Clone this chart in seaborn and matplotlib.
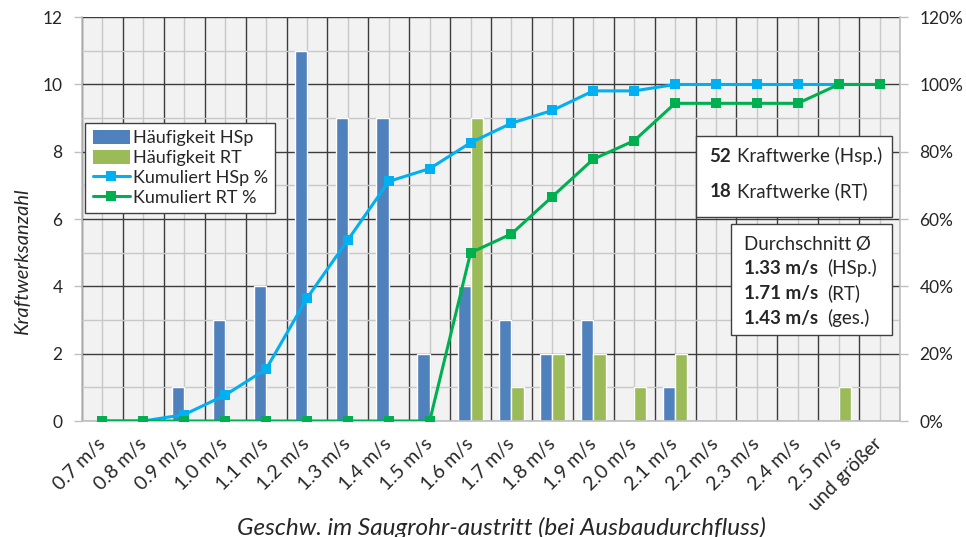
import numpy as np
import pandas as pd
import matplotlib
matplotlib.use("Agg")
import matplotlib.pyplot as plt
from matplotlib.patches import Patch, Rectangle
from matplotlib.lines import Line2D
from matplotlib.ticker import FuncFormatter
import seaborn as sns

# Geschwindigkeitsklassen am Saugrohraustritt
categories = ["0.7 m/s", "0.8 m/s", "0.9 m/s", "1.0 m/s", "1.1 m/s", "1.2 m/s",
              "1.3 m/s", "1.4 m/s", "1.5 m/s", "1.6 m/s", "1.7 m/s", "1.8 m/s",
              "1.9 m/s", "2.0 m/s", "2.1 m/s", "2.2 m/s", "2.3 m/s", "2.4 m/s",
              "2.5 m/s", "und größer"]

# Anzahl Kraftwerke je Klasse
haeufigkeit_hsp = [0, 0, 1, 3, 4, 11, 9, 9, 2, 4, 3, 2, 3, 0, 1, 0, 0, 0, 0, 0]
haeufigkeit_rt = [0, 0, 0, 0, 0, 0, 0, 0, 0, 9, 1, 2, 2, 1, 2, 0, 0, 0, 1, 0]

# Kumulierte Anteile in %
kumuliert_hsp = [0, 0, 1.9, 7.7, 15.4, 36.5, 53.8, 71.2, 75.0, 82.7, 88.5, 92.3,
                 98.1, 98.1, 100, 100, 100, 100, 100, 100]
kumuliert_rt = [0, 0, 0, 0, 0, 0, 0, 0, 0, 50.0, 55.6, 66.7, 77.8, 83.3, 94.4,
                94.4, 94.4, 94.4, 100, 100]

series_names = ["Häufigkeit HSp", "Häufigkeit RT"]
line_names = ["Kumuliert HSp %", "Kumuliert RT %"]

C_HSP = "#4f81bd"
C_RT = "#9bbb59"
C_LHSP = "#00b0f0"
C_LRT = "#00b050"
GRID_DARK = "#3c3c3c"
GRID_LIGHT = "#c8c8c8"
AXIS_GRAY = "#bfbfbf"

sns.set_style("white")
plt.rcParams["font.family"] = ["Lato", "DejaVu Sans"]

df = pd.DataFrame({
    "Geschwindigkeit": categories * 2,
    "Anzahl": haeufigkeit_hsp + haeufigkeit_rt,
    "Reihe": [series_names[0]] * len(categories) + [series_names[1]] * len(categories),
})

fig = plt.figure(figsize=(9.66, 5.37), dpi=100)
ax = fig.add_axes([0.0849, 0.216, 0.8468, 0.752])
ax.set_facecolor("#f2f2f2")

sns.barplot(data=df, x="Geschwindigkeit", y="Anzahl", hue="Reihe",
            palette=[C_HSP, C_RT], width=0.6, dodge=True, saturation=1,
            legend=False, ax=ax, zorder=2)

n = len(categories)
pos = np.arange(n)

# Gitter: dunkle Linien an Klassengrenzen, helle Linien in Klassenmitte
ax.set_xlim(-0.5, n - 0.5)
ax.set_ylim(0, 12)
ax.set_axisbelow(True)
ax.set_xticks(pos)
ax.set_xticklabels(categories, rotation=45, ha="right", va="center",
                   rotation_mode="anchor", fontsize=14)
ax.set_xticks(np.arange(-0.5, n, 1), minor=True)
ax.set_yticks(np.arange(0, 13, 2))
ax.set_yticks(np.arange(1, 12, 2), minor=True)
ax.tick_params(axis="x", which="major", length=0, pad=14.5)
ax.tick_params(axis="x", which="minor", length=5, color=AXIS_GRAY, width=1)
ax.tick_params(axis="y", which="major", length=6, color=AXIS_GRAY, width=1,
               labelsize=12.5, pad=8)
ax.tick_params(axis="y", which="minor", length=0)
ax.xaxis.grid(True, which="major", color=GRID_LIGHT, lw=1)
ax.xaxis.grid(True, which="minor", color=GRID_DARK, lw=1)
ax.yaxis.grid(True, which="major", color=GRID_DARK, lw=1)
ax.yaxis.grid(True, which="minor", color=GRID_LIGHT, lw=1)
for side in ["top", "right"]:
    ax.spines[side].set_visible(False)
for side in ["left", "bottom"]:
    ax.spines[side].set_color(AXIS_GRAY)
    ax.spines[side].set_linewidth(1.2)

ax.set_xlabel("Geschw. im Saugrohr-austritt (bei Ausbaudurchfluss)",
              fontsize=17.5, style="italic", va="baseline")
ax.xaxis.set_label_coords(0.513, -0.282)
ax.set_ylabel("Kraftwerksanzahl", fontsize=14.5, style="italic")
ax.yaxis.set_label_coords(-0.062, 0.394)

# Kumulierte Kurven auf der rechten Achse
ax2 = ax.twinx()
sns.lineplot(x=pos, y=kumuliert_hsp, ax=ax2, color=C_LHSP, lw=2.2, marker="s",
             markersize=7.5, markeredgewidth=0, zorder=3)
sns.lineplot(x=pos, y=kumuliert_rt, ax=ax2, color=C_LRT, lw=2.2, marker="s",
             markersize=7.5, markeredgewidth=0, zorder=4)
ax2.set_ylim(0, 120)
ax2.set_yticks(np.arange(0, 121, 20))
ax2.yaxis.set_major_formatter(FuncFormatter(lambda v, p: f"{v:.0f}%"))
ax2.tick_params(axis="y", length=6, color=AXIS_GRAY, width=1, labelsize=12.5, pad=8)
ax2.grid(False)
for side in ["top", "left", "bottom"]:
    ax2.spines[side].set_visible(False)
ax2.spines["right"].set_color(AXIS_GRAY)
ax2.spines["right"].set_linewidth(1.2)
ax2.set_ylabel("")

handles = [
    Patch(facecolor=C_HSP, edgecolor="none"),
    Patch(facecolor=C_RT, edgecolor="none"),
    Line2D([], [], color=C_LHSP, lw=2.2, marker="s", markersize=7.5, markeredgewidth=0),
    Line2D([], [], color=C_LRT, lw=2.2, marker="s", markersize=7.5, markeredgewidth=0),
]
leg = ax2.legend(handles, series_names + line_names, loc="upper left",
                 bbox_to_anchor=(0.004, 0.738), borderaxespad=0, fontsize=13,
                 frameon=True, fancybox=False, framealpha=1, edgecolor="#404040",
                 handlelength=2.05, handleheight=0.8, labelspacing=0.2,
                 borderpad=0.4, handletextpad=0.2)
leg.get_frame().set_linewidth(1.0)
leg.set_zorder(10)

# Infoboxen
box_kw = dict(transform=ax2.transAxes, facecolor="white", edgecolor="#404040",
              lw=1.0, zorder=11)
ax2.add_patch(Rectangle((0.751, 0.505), 0.239, 0.200, **box_kw))
ax2.add_patch(Rectangle((0.793, 0.213), 0.197, 0.275, **box_kw))

txt_kw = dict(transform=ax2.transAxes, fontsize=13.5, va="center", zorder=12)
ax2.text(0.767, 0.656, "52", fontweight="bold", **txt_kw)
ax2.text(0.801, 0.656, "Kraftwerke (Hsp.)", **txt_kw)
ax2.text(0.767, 0.569, "18", fontweight="bold", **txt_kw)
ax2.text(0.801, 0.569, "Kraftwerke (RT)", **txt_kw)

ax2.text(0.809, 0.437, "Durchschnitt Ø", **txt_kw)
avg_rows = [("1.33 m/s", "(HSp.)", 0.378), ("1.71 m/s", "(RT)", 0.316),
            ("1.43 m/s", "(ges.)", 0.254)]
for val, lab, yy in avg_rows:
    ax2.text(0.809, yy, val, fontweight="bold", **txt_kw)
    ax2.text(0.911, yy, lab, **txt_kw)

fig.savefig("out.png", dpi=100)
